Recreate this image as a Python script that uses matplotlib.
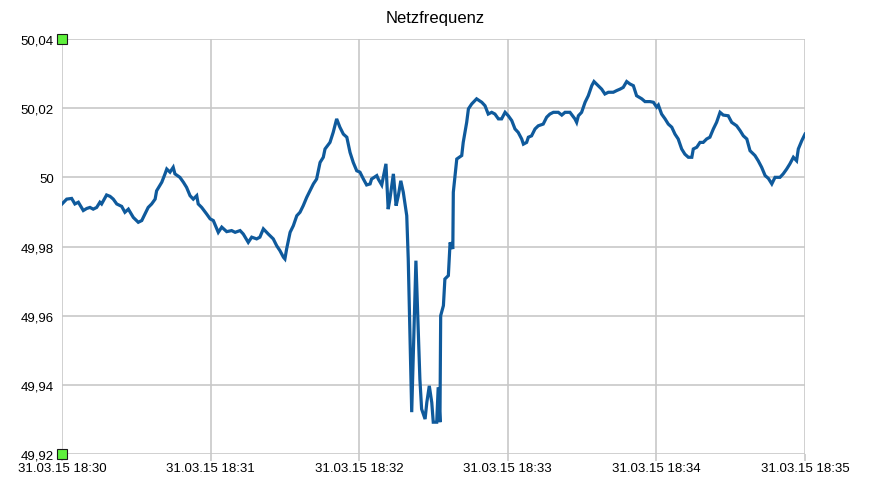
import matplotlib
matplotlib.use("Agg")
import matplotlib.pyplot as plt

plt.rcParams['font.family'] = ['Liberation Sans', 'DejaVu Sans']

title = "Netzfrequenz"

# seconds after 18:30:00
seconds = [0.0, 1.9, 3.9, 5.2, 6.6, 8.6, 10.0, 11.3, 12.6, 14.0, 15.3, 16.0, 18.0, 19.4, 20.7,
           22.1, 24.1, 25.4, 26.8, 28.8, 30.8, 32.2, 33.5, 34.8, 36.2, 37.6, 38.2, 40.3, 41.6,
           42.3, 43.6, 44.9, 45.6, 47.6, 49.0, 50.3, 51.7, 53.0, 54.4, 55.0, 56.4, 58.4, 59.8,
           61.1, 63.1, 64.5, 66.5, 68.5, 69.9, 71.9, 73.2, 75.2, 76.6, 78.6, 79.9, 81.3, 83.3,
           85.3, 86.7, 88.0, 89.4, 90.0, 90.7, 92.1, 93.4, 94.8, 96.1, 97.4, 98.8, 100.1, 101.5,
           102.8, 104.2, 105.5, 106.2, 108.2, 109.5, 110.9, 112.2, 113.6, 115.0, 116.3, 117.6,
           119.0, 120.3, 121.7, 123.0, 124.4, 125.0, 127.1, 127.7, 129.1, 130.8, 131.7, 132.4,
           133.8, 134.9, 135.8, 136.8, 137.8, 139.2, 139.8, 141.2, 142.9, 144.5, 145.2, 146.6,
           147.3, 148.3, 149.3, 149.9, 151.3, 151.9, 152.6, 152.9, 154.0, 154.6, 156.0, 156.7,
           157.8, 158.0, 159.4, 161.4, 162.0, 163.4, 164.1, 165.4, 167.4, 169.5, 170.8, 172.1,
           173.5, 174.8, 176.2, 177.5, 178.9, 180.2, 181.6, 182.9, 184.2, 185.6, 186.3, 187.6,
           188.3, 189.6, 191.0, 192.3, 194.3, 195.7, 197.0, 198.4, 200.4, 201.8, 203.1, 205.1,
           207.1, 207.8, 208.5, 209.8, 211.2, 212.5, 213.9, 214.8, 216.5, 217.9, 219.2, 220.6,
           222.6, 224.0, 225.3, 226.6, 228.0, 229.3, 230.7, 232.0, 234.1, 235.4, 237.4, 238.8,
           240.1, 240.8, 242.1, 243.5, 244.8, 246.2, 247.5, 248.8, 250.2, 251.5, 252.9, 254.3,
           254.9, 256.3, 257.6, 258.9, 260.3, 261.6, 263.0, 264.3, 265.7, 267.0, 269.0, 270.4,
           272.4, 273.8, 275.1, 276.5, 277.8, 279.8, 281.1, 282.5, 283.9, 285.2, 286.6, 287.9,
           289.9, 291.2, 292.6, 293.9, 295.3, 296.6, 297.3, 298.7, 300.0]

frequency = [49.9923, 49.9937, 49.9939, 49.9923, 49.9928, 49.9904, 49.9910, 49.9913, 49.9908,
             49.9913, 49.9928, 49.9923, 49.9949, 49.9945, 49.9937, 49.9923, 49.9916, 49.9899,
             49.9908, 49.9884, 49.9870, 49.9875, 49.9894, 49.9913, 49.9923, 49.9937, 49.9961,
             49.9986, 50.0010, 50.0024, 50.0015, 50.0029, 50.0010, 50.0000, 49.9986, 49.9971,
             49.9947, 49.9937, 49.9947, 49.9923, 49.9913, 49.9894, 49.9880, 49.9875, 49.9841,
             49.9856, 49.9843, 49.9846, 49.9841, 49.9846, 49.9836, 49.9812, 49.9827, 49.9822,
             49.9827, 49.9851, 49.9836, 49.9822, 49.9802, 49.9788, 49.9769, 49.9764, 49.9793,
             49.9841, 49.9860, 49.9889, 49.9899, 49.9918, 49.9942, 49.9961, 49.9981, 49.9995,
             50.0043, 50.0058, 50.0082, 50.0101, 50.0130, 50.0169, 50.0145, 50.0125, 50.0116,
             50.0072, 50.0043, 50.0019, 50.0015, 49.9995, 49.9978, 49.9981, 49.9995, 50.0005,
             49.9995, 49.9978, 50.0039, 49.9908, 49.9937, 50.0010, 49.9918, 49.9947, 49.9990,
             49.9957, 49.9889, 49.9764, 49.9321, 49.9759, 49.9417, 49.9330, 49.9301, 49.9349,
             49.9397, 49.9349, 49.9292, 49.9292, 49.9393, 49.9292, 49.9600, 49.9629, 49.9706,
             49.9716, 49.9812, 49.9793, 49.9957, 50.0053, 50.0063, 50.0101, 50.0159, 50.0198,
             50.0212, 50.0227, 50.0217, 50.0207, 50.0183, 50.0188, 50.0183, 50.0169, 50.0169,
             50.0188, 50.0178, 50.0164, 50.0140, 50.0130, 50.0111, 50.0096, 50.0101, 50.0116,
             50.0120, 50.0140, 50.0149, 50.0154, 50.0174, 50.0183, 50.0188, 50.0188, 50.0180,
             50.0188, 50.0188, 50.0169, 50.0159, 50.0178, 50.0188, 50.0217, 50.0236, 50.0265,
             50.0277, 50.0265, 50.0255, 50.0241, 50.0246, 50.0246, 50.0251, 50.0255, 50.0260,
             50.0277, 50.0270, 50.0265, 50.0236, 50.0227, 50.0219, 50.0219, 50.0217, 50.0203,
             50.0209, 50.0183, 50.0169, 50.0154, 50.0145, 50.0125, 50.0111, 50.0082, 50.0067,
             50.0058, 50.0058, 50.0082, 50.0087, 50.0101, 50.0101, 50.0111, 50.0116, 50.0140,
             50.0159, 50.0188, 50.0180, 50.0178, 50.0159, 50.0149, 50.0135, 50.0120, 50.0111,
             50.0077, 50.0063, 50.0048, 50.0029, 50.0005, 49.9997, 49.9981, 50.0000, 50.0000,
             50.0010, 50.0024, 50.0039, 50.0058, 50.0048, 50.0082, 50.0106, 50.0125]

# range-marker series (green squares)
marker_x = [0, 0]
marker_y = [50.04, 49.92]

x_ticks = [0, 60, 120, 180, 240, 300]
x_tick_labels = ["31.03.15 18:30", "31.03.15 18:31", "31.03.15 18:32",
                 "31.03.15 18:33", "31.03.15 18:34", "31.03.15 18:35"]
y_ticks = [49.92, 49.94, 49.96, 49.98, 50.00, 50.02, 50.04]
y_tick_labels = ["49,92", "49,94", "49,96", "49,98", "50", "50,02", "50,04"]

fig = plt.figure(figsize=(8.69, 5.02), dpi=100)
ax = fig.add_axes([62/869, 47/502, 743/869, 415/502])

ax.plot(seconds, frequency, color='#0f5a9c', linewidth=2.3, solid_joinstyle='miter', zorder=3)
ax.plot(marker_x, marker_y, linestyle='none', marker='s', markersize=6.5,
        markerfacecolor='#5ef03c', markeredgecolor='#1a1a1a', markeredgewidth=0.8,
        clip_on=False, zorder=5)

ax.set_xlim(0, 300)
ax.set_ylim(49.92, 50.04)
ax.set_xticks(x_ticks)
ax.set_xticklabels(x_tick_labels)
ax.set_yticks(y_ticks)
ax.set_yticklabels(y_tick_labels)

for s in ax.spines.values():
    s.set_visible(False)
ax.grid(True, color='#c8c8c8', linewidth=1.2, zorder=0)
ax.set_axisbelow(True)
ax.tick_params(axis='x', length=5, width=1.2, color='#c8c8c8', labelsize=9.5, pad=1, labelcolor='black')
ax.tick_params(axis='y', length=0, labelsize=9.5, pad=6, labelcolor='black')

fig.text(435/869, 1 - 18/502, title, ha='center', va='center', fontsize=12)

fig.savefig("out.png", dpi=100)
